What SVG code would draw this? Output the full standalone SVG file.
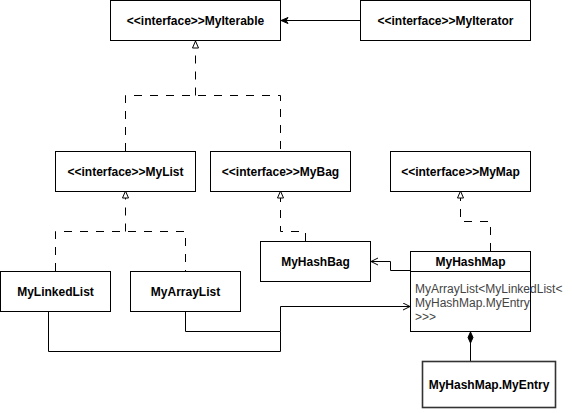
<svg xmlns="http://www.w3.org/2000/svg" width="572" height="413" viewBox="0 0 572 413">
<style>
  .box{fill:#fff;stroke:#000;stroke-width:1}
  .t{font-family:"Liberation Sans",Arial,sans-serif;font-size:12px;font-weight:bold;fill:#000;text-anchor:middle}
  .attr{font-family:"Liberation Sans",Arial,sans-serif;font-size:12px;fill:#444}
  .c{fill:none;stroke:#000;stroke-width:1}
  .d{fill:none;stroke:#000;stroke-width:1;stroke-dasharray:8 8}
</style>
<defs>
  <marker id="tri" markerWidth="10" markerHeight="10" refX="8" refY="4" orient="auto" markerUnits="userSpaceOnUse">
    <path d="M1,1 L8,4 L1,7 Z" fill="#fff" stroke="#000" stroke-width="1"/>
  </marker>
  <marker id="fill" markerWidth="10" markerHeight="10" refX="8" refY="4" orient="auto" markerUnits="userSpaceOnUse">
    <path d="M1,1 L8,4 L1,7 L3,4 Z" fill="#000" stroke="#000" stroke-width="1"/>
  </marker>
  <marker id="open" markerWidth="10" markerHeight="10" refX="8" refY="4" orient="auto" markerUnits="userSpaceOnUse">
    <path d="M1,0.5 L8,4 L1,7.5" fill="none" stroke="#000" stroke-width="1"/>
  </marker>
  <marker id="dia" markerWidth="14" markerHeight="10" refX="12" refY="4" orient="auto" markerUnits="userSpaceOnUse">
    <path d="M12,4 L6.5,1.5 L1,4 L6.5,6.5 Z" fill="#000" stroke="#000" stroke-width="1"/>
  </marker>
</defs>

<g id="connectors">
  <path class="c" d="M360,20.5 L281,20.5" marker-end="url(#fill)"/>
  <path class="d" d="M125.5,151 L125.5,95.5 L280.5,95.5 L280.5,151"/>
  <path class="d" d="M195.5,95.5 L195.5,41" marker-end="url(#tri)"/>
  <path class="d" d="M55.5,271 L55.5,231.5 L185.5,231.5 L185.5,271"/>
  <path class="d" d="M125.5,231.5 L125.5,191" marker-end="url(#tri)"/>
  <path class="d" d="M305.5,241 L305.5,231.5 L280.5,231.5 L280.5,191" marker-end="url(#tri)"/>
  <path class="d" d="M490.5,251 L490.5,221.5 L460.5,221.5 L460.5,191" marker-end="url(#tri)"/>
  <path class="c" d="M410,270.5 L390.5,270.5 L390.5,261.5 L371,261.5" marker-end="url(#open)"/>
  <path class="c" d="M185.5,311 L185.5,331.5 L280.5,331.5 L280.5,306.5 L410,306.5" marker-end="url(#open)"/>
  <path class="c" d="M48.5,311 L48.5,351.5 L280.5,351.5 L280.5,331.5"/>
  <path class="c" d="M470.5,361 L470.5,332" marker-end="url(#dia)"/>
</g>

<g id="MyIterable">
  <rect class="box" x="110.5" y="0.5" width="170" height="40"/>
  <text class="t" x="195.5" y="24.5">&lt;&lt;interface&gt;&gt;MyIterable</text>
</g>
<g id="MyIterator">
  <rect class="box" x="360.5" y="0.5" width="170" height="40"/>
  <text class="t" x="445.5" y="24.5">&lt;&lt;interface&gt;&gt;MyIterator</text>
</g>
<g id="MyList">
  <rect class="box" x="55.5" y="151.5" width="140" height="40"/>
  <text class="t" x="125.5" y="175.5">&lt;&lt;interface&gt;&gt;MyList</text>
</g>
<g id="MyBag">
  <rect class="box" x="210.5" y="151.5" width="140" height="40"/>
  <text class="t" x="280.5" y="175.5">&lt;&lt;interface&gt;&gt;MyBag</text>
</g>
<g id="MyMap">
  <rect class="box" x="390.5" y="151.5" width="140" height="40"/>
  <text class="t" x="460.5" y="175.5">&lt;&lt;interface&gt;&gt;MyMap</text>
</g>
<g id="MyLinkedList">
  <rect class="box" x="0.5" y="271.5" width="110" height="40"/>
  <text class="t" x="55.5" y="295.5">MyLinkedList</text>
</g>
<g id="MyArrayList">
  <rect class="box" x="130.5" y="271.5" width="110" height="40"/>
  <text class="t" x="185.5" y="295.5">MyArrayList</text>
</g>
<g id="MyHashBag">
  <rect class="box" x="260.5" y="241.5" width="110" height="40"/>
  <text class="t" x="315.5" y="265.5">MyHashBag</text>
</g>
<g id="MyHashMap">
  <rect class="box" x="410.5" y="251.5" width="120" height="80"/>
  <line class="c" x1="410.5" y1="271.5" x2="530.5" y2="271.5"/>
  <text class="t" x="470.5" y="266">MyHashMap</text>
  <text class="attr" x="415" y="293">MyArrayList&lt;MyLinkedList&lt;</text>
  <text class="attr" x="415" y="307">MyHashMap.MyEntry</text>
  <text class="attr" x="415" y="321">&gt;&gt;&gt;</text>
</g>
<g id="MyHashMap.MyEntry">
  <rect class="box" x="422.5" y="361.5" width="133" height="46" style="stroke-width:1.6;stroke:#333"/>
  <text class="t" x="489" y="389">MyHashMap.MyEntry</text>
</g>
</svg>
